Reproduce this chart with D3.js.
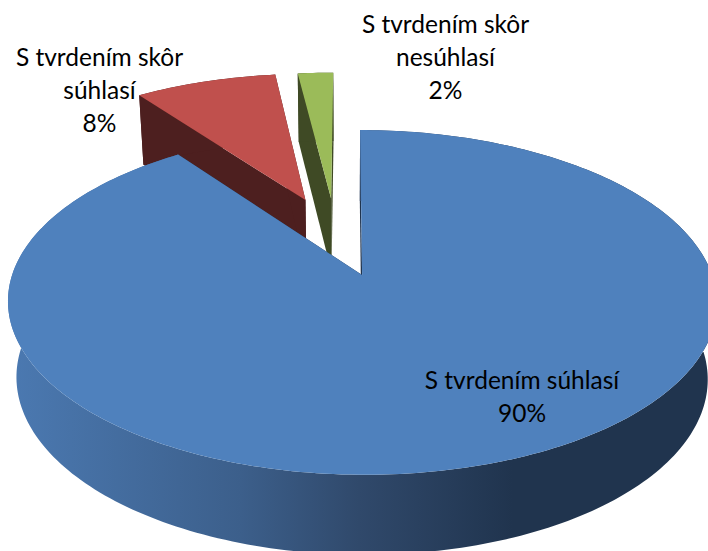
<!DOCTYPE html>
<html>
<head>
<meta charset="utf-8">
<script src="https://cdn.jsdelivr.net/npm/d3@7"></script>
<style>
html, body { margin: 0; padding: 0; background: #fff; }
svg { display: block; }
text { font-family: Lato, "Open Sans", sans-serif; font-size: 24.5px; fill: #000; }
</style>
</head>
<body>
<svg class="chart"></svg>
<script>
// data
const categories = ['S tvrdením súhlasí', 'S tvrdením skôr súhlasí', 'S tvrdením skôr nesúhlasí'];
const values = [90, 8, 2];

const width = 708;
const height = 551;

// look of each slice, same order as categories
const topColors = ['#4f81bd', '#c0504d', '#9bbb59'];
const sideColors = ['url(#blue-side)', '#4d1f1f', '#3f4a25'];
const shift = [[0.042, 0], [-0.129, -0.48], [-0.05, -0.49]]; // explosion, in disc radii
const labelLines = [['S tvrdením súhlasí'], ['S tvrdením skôr', 'súhlasí'], ['S tvrdením skôr', 'nesúhlasí']];
const labelPos = [[522, 389], [99.5, 66], [445.5, 33]];
const lineHeight = 33;

// perspective of the tilted disc
const vanishX = 347.4;
const originY = 275;
const radiusX = 350;
const radiusY = 168;
const depth = 79; // thickness of the pie, runs off the bottom edge
const tiltK = 0.159;
const depthK = 0.042;
const depthKx = 0.025; // the walls barely lean inwards

const project = (u, v, z) => {
    const w = 1 - tiltK * v + depthK * z;
    const wx = 1 - tiltK * v + depthKx * z;
    return [vanishX + radiusX * u / wx, originY + (radiusY * v + depth * z) / w];
};

// point on a slice: angle clockwise from the top, r in disc radii, z 0 top / 1 bottom
const slicePoint = (i, angle, r, z) => project(
    shift[i][0] + r * Math.sin(angle),
    shift[i][1] - r * Math.cos(angle),
    z
);

const arcAngles = (a0, a1) => {
    const n = Math.max(2, Math.ceil((a1 - a0) / 0.02));
    return d3.range(n + 1).map(k => a0 + (a1 - a0) * k / n);
};

const line = d3.line();

const pie = d3.pie().sort(null);
const slices = pie(values);

const svg = d3.select('.chart')
    .attr('width', width)
    .attr('height', height)
    .attr('viewBox', [0, 0, width, height]);

const grad = svg.append('defs').append('linearGradient')
    .attr('id', 'blue-side')
    .attr('gradientUnits', 'userSpaceOnUse')
    .attr('x1', 10).attr('x2', 708).attr('y1', 0).attr('y2', 0);
grad.selectAll('stop')
    .data([[0, '#4b79b1'], [0.33, '#3c5f8b'], [0.5, '#30496b'], [0.72, '#20344e'], [1, '#20344e']])
    .join('stop')
    .attr('offset', d => d[0])
    .attr('stop-color', d => d[1]);

// back slices first, the big blue one covers them
const order = [2, 1, 0];

order.forEach(i => {
    const d = slices[i];
    const g = svg.append('g');
    const arc = arcAngles(d.startAngle, d.endAngle);

    // the two cut faces
    [d.startAngle, d.endAngle].forEach(a => {
        const face = [
            slicePoint(i, a, 0, 0),
            slicePoint(i, a, 1, 0),
            slicePoint(i, a, 1, 1),
            slicePoint(i, a, 0, 1)
        ];
        g.append('path')
            .attr('d', line(face) + 'Z')
            .attr('fill', i === 0 ? '#20344e' : sideColors[i]);
    });

    // outer wall
    const wall = arc.map(a => slicePoint(i, a, 1, 0))
        .concat(arc.slice().reverse().map(a => slicePoint(i, a, 1, 1)));
    g.append('path')
        .attr('d', line(wall) + 'Z')
        .attr('fill', sideColors[i]);

    // top face
    const top = [slicePoint(i, 0, 0, 0)].concat(arc.map(a => slicePoint(i, a, 1, 0)));
    g.append('path')
        .attr('d', line(top) + 'Z')
        .attr('fill', topColors[i]);
});

// data labels
const labels = svg.append('g')
    .attr('text-anchor', 'middle')
    .selectAll('text')
    .data(slices)
    .join('text')
    .attr('y', d => labelPos[d.index][1]);

labels.each(function(d) {
    const rows = labelLines[d.index].concat(d3.format('.0f')(d.data) + '%');
    d3.select(this).selectAll('tspan')
        .data(rows)
        .join('tspan')
        .attr('x', labelPos[d.index][0])
        .attr('dy', (_, k) => k ? lineHeight : 0)
        .text(r => r);
});
</script>
</body>
</html>
